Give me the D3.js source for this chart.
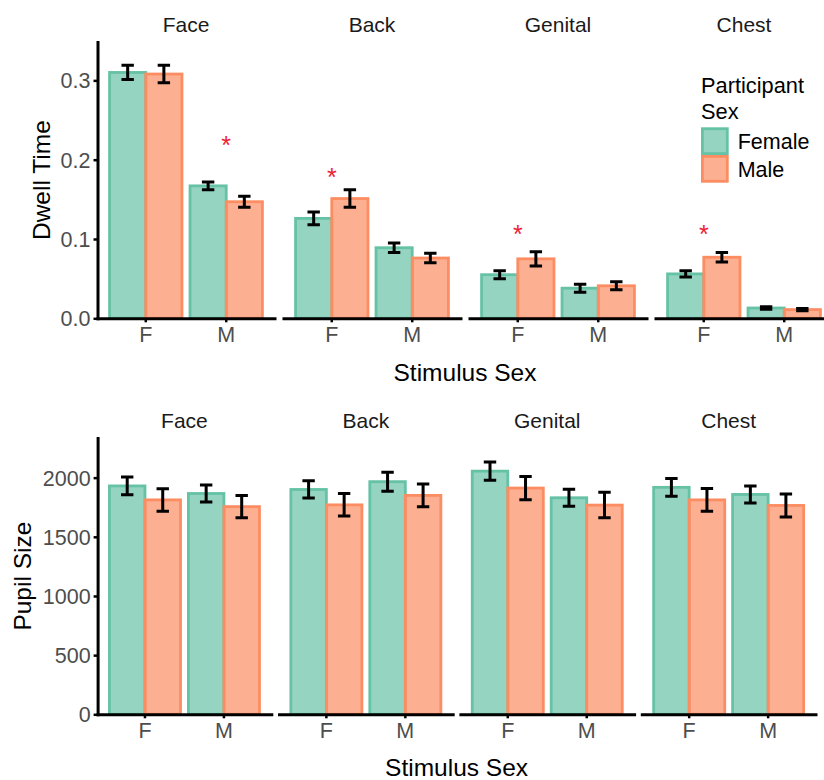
<!DOCTYPE html>
<html>
<head>
<meta charset="utf-8">
<script src="https://cdn.jsdelivr.net/npm/d3@7"></script>
<style>
  body { margin: 0; background: #fff; }
  svg { font-family: "Liberation Sans", Arial, Helvetica, sans-serif; }
</style>
</head>
<body>
<div id="chart"></div>
<script>
// Data -------------------------------------------------------------
var regions = ["Face", "Back", "Genital", "Chest"];
var stimSex = ["F", "M"];
var partSex = ["Female", "Male"];

// order: Face F, Face M, Back F, Back M, Genital F, Genital M, Chest F, Chest M
var dwellFemale   = [0.310, 0.167, 0.126, 0.089, 0.055, 0.038, 0.056, 0.013];
var dwellFemaleSE = [0.009, 0.005, 0.008, 0.006, 0.005, 0.005, 0.004, 0.0015];
var dwellMale     = [0.308, 0.147, 0.151, 0.076, 0.075, 0.041, 0.077, 0.011];
var dwellMaleSE   = [0.011, 0.007, 0.011, 0.006, 0.009, 0.005, 0.006, 0.0015];

var pupilFemale   = [1930, 1866, 1900, 1966, 2055, 1830, 1918, 1858];
var pupilFemaleSE = [75, 72, 73, 80, 78, 72, 75, 72];
var pupilMale     = [1812, 1755, 1770, 1850, 1912, 1768, 1812, 1765];
var pupilMaleSE   = [95, 95, 95, 97, 98, 108, 97, 97];

// significance stars (region, stimulus sex, height in dwell-time units)
var starRegion = ["Face", "Back", "Genital", "Chest"];
var starStim   = ["M", "F", "F", "F"];
var starValue  = [0.225, 0.184, 0.112, 0.113];

var dwellTicks = [0, 0.1, 0.2, 0.3];
var pupilTicks = [0, 500, 1000, 1500, 2000];

// Colours
var fillColor = {Female: "rgba(102,194,165,0.7)", Male: "rgba(252,141,98,0.7)"};
var lineColor = {Female: "#66C2A5", Male: "#FC8D62"};

// build rows
function makeRows(fem, femSE, mal, malSE){
	var rows = [];
	regions.forEach(function(r, i){
		stimSex.forEach(function(s, j){
			var k = i * 2 + j;
			rows.push({region: r, stim: s, part: "Female", mean: fem[k], se: femSE[k]});
			rows.push({region: r, stim: s, part: "Male", mean: mal[k], se: malSE[k]});
		});
	});
	return rows;
}
var dwellRows = makeRows(dwellFemale, dwellFemaleSE, dwellMale, dwellMaleSE);
var pupilRows = makeRows(pupilFemale, pupilFemaleSE, pupilMale, pupilMaleSE);

// SVG ---------------------------------------------------------------
var svg = d3.select("#chart")
			.append("svg")
			.attr("width", 824)
			.attr("height", 780);

// draws one row of facets
function drawRow(opt){
	var xBand = d3.scaleBand().domain(stimSex).range([0, opt.panelW])
				.paddingInner(0.1).paddingOuter(0.15);
	var xSub = d3.scaleBand().domain(partSex).range([0, xBand.bandwidth()]).padding(0);
	var y = d3.scaleLinear().domain([0, opt.yMax]).range([opt.height, 0]);

	// y axis on first panel only
	var yAxis = svg.append("g")
				.attr("transform", "translate(" + opt.left + "," + opt.top + ")")
				.call(d3.axisLeft(y).tickValues(opt.ticks).tickFormat(opt.fmt)
					.tickSize(4).tickSizeOuter(0).tickPadding(3));
	styleAxis(yAxis);
	yAxis.selectAll("text").attr("dy", "0.35em");

	// y title
	svg.append("text")
		.attr("transform", "translate(" + opt.yTitleX + "," + (opt.top + opt.height / 2) + ") rotate(-90)")
		.attr("text-anchor", "middle")
		.attr("font-size", "24.5px")
		.attr("fill", "#000")
		.text(opt.yTitle);

	regions.forEach(function(r, i){
		var px = opt.left + i * opt.step;
		var g = svg.append("g").attr("transform", "translate(" + px + "," + opt.top + ")");
		var rows = opt.rows.filter(function(d){ return d.region === r; });

		// bars: female first, male drawn over it
		g.selectAll("rect.bar")
			.data(rows)
			.enter().append("rect")
			.attr("class", "bar")
			.attr("x", function(d){ return xBand(d.stim) + xSub(d.part); })
			.attr("width", xSub.bandwidth())
			.attr("y", function(d){ return y(d.mean); })
			.attr("height", function(d){ return y(0) - y(d.mean); })
			.attr("fill", function(d){ return fillColor[d.part]; })
			.attr("stroke", function(d){ return lineColor[d.part]; })
			.attr("stroke-width", 2.8);

		// error bars
		var capW = 6.2;
		var eb = g.selectAll("g.err")
			.data(rows)
			.enter().append("g")
			.attr("class", "err")
			.attr("transform", function(d){
				return "translate(" + (xBand(d.stim) + xSub(d.part) + xSub.bandwidth() / 2) + ",0)";
			});
		eb.append("path")
			.attr("d", function(d){
				var y1 = y(d.mean + d.se), y0 = y(d.mean - d.se);
				return "M" + (-capW) + "," + y1 + "H" + capW +
					"M0," + y1 + "V" + y0 +
					"M" + (-capW) + "," + y0 + "H" + capW;
			})
			.attr("fill", "none")
			.attr("stroke", "#000")
			.attr("stroke-width", 3);

		// x axis
		var xAxis = g.append("g")
				.attr("transform", "translate(0," + opt.height + ")")
				.call(d3.axisBottom(xBand).tickSize(4).tickSizeOuter(0).tickPadding(4.5));
		styleAxis(xAxis);

		// strip label
		svg.append("text")
			.attr("x", px + opt.panelW / 2)
			.attr("y", opt.stripY)
			.attr("text-anchor", "middle")
			.attr("font-size", "21px")
			.attr("fill", "#1A1A1A")
			.text(r);

		// stars
		if (opt.stars){
			starRegion.forEach(function(sr, k){
				if (sr !== r) return;
				g.append("text")
					.attr("x", xBand(starStim[k]) + xBand.bandwidth() / 2)
					.attr("y", y(starValue[k]) + 14)
					.attr("text-anchor", "middle")
					.attr("font-size", "25px")
					.attr("fill", "#EE2233")
					.text("*");
			});
		}
	});

	// x title
	svg.append("text")
		.attr("x", opt.left + (3 * opt.step + opt.panelW) / 2)
		.attr("y", opt.xTitleY)
		.attr("text-anchor", "middle")
		.attr("font-size", "24.5px")
		.attr("fill", "#000")
		.text("Stimulus Sex");
}

function styleAxis(ax){
	ax.select(".domain").attr("stroke", "#000").attr("stroke-width", 3).attr("stroke-linecap", "square");
	ax.selectAll(".tick line").attr("stroke", "#000").attr("stroke-width", 2.5);
	ax.selectAll(".tick text").attr("fill", "#4D4D4D").attr("font-size", "21.5px")
		.attr("font-family", "Liberation Sans, Arial, sans-serif");
}

// Dwell time (top)
drawRow({
	rows: dwellRows, left: 97.5, top: 42, height: 276.3, panelW: 177, step: 186,
	yMax: 0.3484, ticks: dwellTicks, fmt: d3.format(".1f"),
	yTitle: "Dwell Time", yTitleX: 49.5, stripY: 32, xTitleY: 381, stars: true
});

// Pupil size (bottom)
drawRow({
	rows: pupilRows, left: 97.6, top: 438, height: 276.3, panelW: 173.7, step: 181.4,
	yMax: 2335, ticks: pupilTicks, fmt: d3.format("d"),
	yTitle: "Pupil Size", yTitleX: 31, stripY: 428, xTitleY: 776, stars: false
});

// Legend ------------------------------------------------------------
var legend = svg.append("g").attr("transform", "translate(701,0)");
legend.append("text").attr("x", 0).attr("y", 92.5).attr("font-size", "21.8px").attr("fill", "#000").text("Participant");
legend.append("text").attr("x", 0).attr("y", 118.5).attr("font-size", "21.8px").attr("fill", "#000").text("Sex");
var keySize = 27.7;
var item = legend.selectAll("g.key")
	.data(partSex)
	.enter().append("g")
	.attr("class", "key")
	.attr("transform", function(d, i){ return "translate(0," + (127.3 + i * keySize) + ")"; });
item.append("rect")
	.attr("x", 1.4).attr("y", 1.4)
	.attr("width", keySize - 2.8).attr("height", keySize - 2.8)
	.attr("fill", function(d){ return fillColor[d]; })
	.attr("stroke", function(d){ return lineColor[d]; })
	.attr("stroke-width", 2.8);
item.append("text")
	.attr("x", 36.7)
	.attr("y", keySize / 2 + 7.7)
	.attr("font-size", "21.5px")
	.attr("fill", "#000")
	.text(function(d){ return d; });
</script>
</body>
</html>
